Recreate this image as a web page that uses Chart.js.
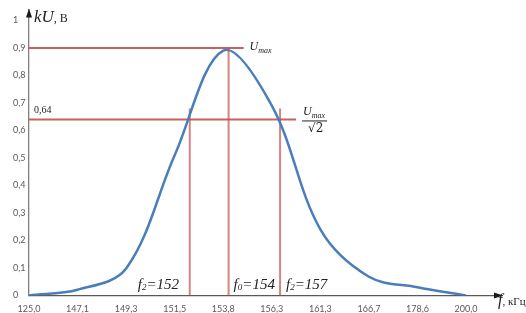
<!DOCTYPE html>
<html>
<head>
<meta charset="utf-8">
<script src="https://cdn.jsdelivr.net/npm/chart.js@4.4.1/dist/chart.umd.min.js"></script>
<style>
  html, body { margin: 0; padding: 0; background: #fff; }
  #box { width: 526px; height: 313px; }
</style>
</head>
<body>
<div id="box"><canvas id="resChart"></canvas></div>
<script>
// frequency categories (kHz) and measured voltage
var freqLabels = ['125,0', '147,1', '149,3', '151,5', '153,8', '156,3', '161,3', '166,7', '178,6', '200,0'];
var voltage = [0, 0.021, 0.098, 0.51, 0.89, 0.69, 0.24, 0.068, 0.03, 0];

// helper levels and marker lines (x is position along the category axis)
var maxLevel = 0.9;
var halfLevel = 0.64;
var maxLineEnd = 4.42;
var halfLineEnd = 5.5;
var markerPos = [3.31, 4.11, 5.17];
var markerTop = [0.68, 0.9, 0.68];
var markerSub = ['2', '0', '2'];
var markerFreq = ['152', '154', '157'];

var red = 'rgba(192, 80, 77, 0.9)';
var redLight = 'rgba(200, 90, 90, 0.75)';

var curveData = voltage.map(function (v, i) { return { x: i, y: v }; });

var datasets = [{
    data: curveData,
    borderColor: '#4a7ebb',
    borderWidth: 2.5,
    tension: 0.35,
    pointRadius: 0,
    showLine: true
}, {
    data: [{ x: 0, y: maxLevel }, { x: maxLineEnd, y: maxLevel }],
    borderColor: red, borderWidth: 2, pointRadius: 0, showLine: true
}, {
    data: [{ x: 0, y: halfLevel }, { x: halfLineEnd, y: halfLevel }],
    borderColor: red, borderWidth: 2, pointRadius: 0, showLine: true
}];
markerPos.forEach(function (p, i) {
    datasets.push({
        data: [{ x: p, y: 0 }, { x: p, y: markerTop[i] }],
        borderColor: redLight, borderWidth: 2, pointRadius: 0, showLine: true
    });
});

// draws a run of text pieces: [text, font, dy]
function drawRuns(ctx, x, y, runs) {
    runs.forEach(function (r) {
        ctx.font = r[1];
        ctx.fillText(r[0], x, y + (r[2] || 0));
        x += ctx.measureText(r[0]).width;
    });
}

var notes = {
    id: 'notes',
    beforeDraw: function (chart) {
        var ctx = chart.ctx;
        ctx.save();
        ctx.fillStyle = '#fff';
        ctx.fillRect(0, 0, chart.width, chart.height);
        ctx.restore();
    },
    afterDraw: function (chart) {
        var ctx = chart.ctx;
        var xs = chart.scales.x, ys = chart.scales.y;
        var left = chart.chartArea.left, top = chart.chartArea.top;
        var right = chart.chartArea.right, bottom = chart.chartArea.bottom;
        ctx.save();
        // arrow heads
        ctx.fillStyle = '#1a1a1a';
        ctx.beginPath();
        ctx.moveTo(left, top - 1);
        ctx.lineTo(left - 3, top + 8);
        ctx.lineTo(left + 3, top + 8);
        ctx.closePath();
        ctx.fill();
        ctx.beginPath();
        ctx.moveTo(right + 1, bottom);
        ctx.lineTo(right - 8, bottom - 3);
        ctx.lineTo(right - 8, bottom + 3);
        ctx.closePath();
        ctx.fill();

        ctx.fillStyle = '#222';
        ctx.textBaseline = 'alphabetic';
        ctx.textAlign = 'left';
        var it = 'italic 15px "Liberation Serif"';
        var itSub = 'italic 9px "Liberation Serif"';

        // axis names
        drawRuns(ctx, left + 5, 22, [['kU', 'italic 17px "Liberation Serif"'], [', В', '12px "Liberation Serif"']]);
        drawRuns(ctx, right - 4, 305, [['f', 'italic 16px "Liberation Serif"'], [', кГц', '11px "Liberation Serif"']]);

        // level labels
        ctx.font = '10px "Liberation Serif"';
        ctx.fillText('0,64', left + 5, ys.getPixelForValue(halfLevel) - 6);
        var px = xs.getPixelForValue(4.11);
        drawRuns(ctx, px + 21, ys.getPixelForValue(maxLevel) + 2,
            [['U', 'italic 12px "Liberation Serif"'], ['max', 'italic 8px "Liberation Serif"', 3]]);
        var fx = xs.getPixelForValue(halfLineEnd) + 7;
        var fy = ys.getPixelForValue(halfLevel);
        drawRuns(ctx, fx, fy - 4, [['U', 'italic 12px "Liberation Serif"'], ['max', 'italic 8px "Liberation Serif"', 3]]);
        ctx.strokeStyle = '#222';
        ctx.lineWidth = 1;
        ctx.beginPath();
        ctx.moveTo(fx - 1, fy + 1.5);
        ctx.lineTo(fx + 24, fy + 1.5);
        ctx.stroke();
        drawRuns(ctx, fx + 5, fy + 13, [['√2', '12px "DejaVu Serif"']]);

        // marker frequencies
        var offs = [-52, 5, 6];
        markerPos.forEach(function (p, i) {
            var x = xs.getPixelForValue(p) + offs[i];
            drawRuns(ctx, x, bottom - 7, [['f', it], [markerSub[i], itSub, 1], ['=' + markerFreq[i], it]]);
        });
        ctx.restore();
    }
};

var ctx = document.getElementById('resChart').getContext('2d');
var chart = new Chart(ctx, {
    type: 'scatter',
    data: { datasets: datasets },
    options: {
        responsive: true,
        maintainAspectRatio: false,
        animation: false,
        layout: { padding: { top: 9, right: 24, left: 13, bottom: 0 } },
        plugins: {
            legend: { display: false },
            tooltip: { enabled: false }
        },
        scales: {
            x: {
                type: 'linear',
                min: 0,
                max: 9.74,
                afterFit: function (s) { s.height = 17.5; },
                grid: { display: false, drawTicks: false },
                border: { color: '#595959', width: 1.3 },
                ticks: {
                    stepSize: 1,
                    includeBounds: false,
                    autoSkip: false,
                    maxRotation: 0,
                    padding: 8,
                    color: '#595959',
                    font: { family: 'Lato', size: 9 },
                    callback: function (v) { return freqLabels[v] !== undefined ? freqLabels[v] : ''; }
                }
            },
            y: {
                min: 0,
                max: 1.04,
                afterFit: function (s) { s.width = 16; },
                grid: { display: false, drawTicks: false },
                border: { color: '#7f7f7f', width: 1.3 },
                ticks: {
                    stepSize: 0.1,
                    includeBounds: false,
                    padding: 4,
                    crossAlign: 'far',
                    color: '#595959',
                    font: { family: 'Lato', size: 9 },
                    callback: function (v) {
                        if (Math.abs(v) < 1e-9) return '0';
                        if (Math.abs(v - 1) < 1e-9) return '1';
                        return v.toFixed(1).replace('.', ',');
                    }
                }
            }
        }
    },
    plugins: [notes]
});
</script>
</body>
</html>
